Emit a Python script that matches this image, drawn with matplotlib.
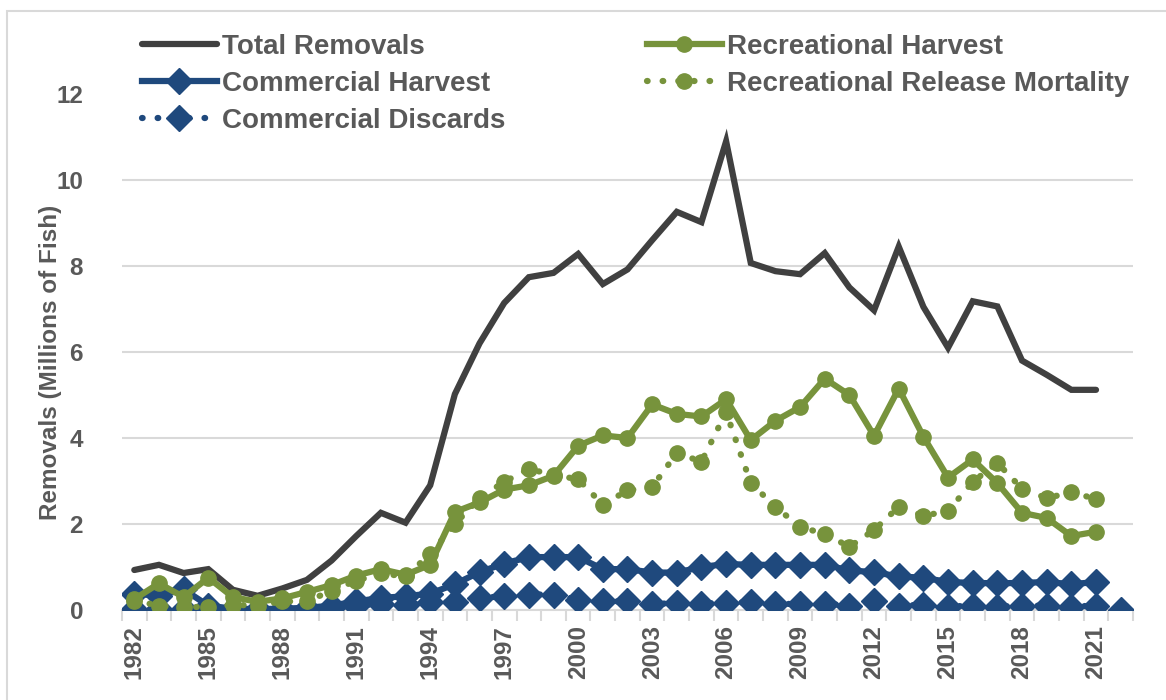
import matplotlib
matplotlib.use("Agg")
import matplotlib.pyplot as plt
import numpy as np
from matplotlib.patches import Rectangle

# years on the category axis (discards run one year longer)
years = list(range(1982, 2023))

# removals in millions of fish
total_removals = [0.93, 1.05, 0.86, 0.95, 0.47, 0.33, 0.5, 0.7, 1.15, 1.72,
                  2.26, 2.03, 2.9, 5.02, 6.2, 7.14, 7.74, 7.84, 8.28, 7.58,
                  7.92, 8.6, 9.26, 9.02, 10.9, 8.07, 7.88, 7.81, 8.3, 7.5,
                  6.97, 8.45, 7.05, 6.1, 7.18, 7.06, 5.8, 5.47, 5.12, 5.12]
rec_harvest = [0.25, 0.62, 0.3, 0.75, 0.3, 0.19, 0.27, 0.42, 0.58, 0.8,
               0.95, 0.82, 1.05, 2.28, 2.5, 2.8, 2.9, 3.12, 3.82, 4.06,
               4.0, 4.78, 4.56, 4.5, 4.9, 3.95, 4.4, 4.72, 5.38, 5.0,
               4.05, 5.15, 4.03, 3.08, 3.5, 2.95, 2.26, 2.14, 1.72, 1.82]
rec_release = [0.22, 0.1, 0.06, 0.08, 0.12, 0.1, 0.2, 0.2, 0.45, 0.68,
               0.85, 0.78, 1.3, 2.0, 2.6, 2.98, 3.28, 3.14, 3.04, 2.45,
               2.78, 2.86, 3.65, 3.45, 4.6, 2.95, 2.4, 1.93, 1.77, 1.47,
               1.86, 2.4, 2.19, 2.3, 2.98, 3.42, 2.82, 2.6, 2.74, 2.58]
comm_harvest = [0.38, 0.33, 0.48, 0.1, 0.03, 0.02, 0.03, 0.05, 0.1, 0.2,
                0.28, 0.32, 0.38, 0.6, 0.88, 1.08, 1.23, 1.23, 1.23, 0.95,
                0.95, 0.87, 0.87, 1.0, 1.07, 1.05, 1.05, 1.05, 1.05, 0.92,
                0.88, 0.78, 0.75, 0.65, 0.63, 0.62, 0.63, 0.65, 0.6, 0.65]
comm_discards = [0.02, 0.02, 0.02, 0.05, 0.0, 0.0, 0.0, 0.0, 0.05, 0.1,
                 0.15, 0.12, 0.18, 0.18, 0.28, 0.32, 0.36, 0.36, 0.24, 0.2,
                 0.2, 0.13, 0.17, 0.15, 0.17, 0.18, 0.13, 0.15, 0.15, 0.1,
                 0.2, 0.1, 0.12, 0.08, 0.1, 0.08, 0.1, 0.1, 0.08, 0.1, 0.0]

grey = "#404040"
green = "#77933C"
blue = "#1F497D"
text_col = "#595959"
grid_col = "#D9D9D9"

plt.rcParams["font.family"] = ["Liberation Sans", "DejaVu Sans"]
plt.rcParams["font.weight"] = "bold"

fig = plt.figure(figsize=(11.66, 7.0), dpi=100)
ax = fig.add_axes([0.1046, 0.1286, 0.8671, 0.7371])

# outer chart border
fig.patches.append(Rectangle((7 / 1166, -0.01), 1.02, 0.995, transform=fig.transFigure,
                             fill=False, edgecolor=grid_col, linewidth=1.5))

x = np.arange(len(years))
n = len(total_removals)
dot = (0, (0.1, 2.4))

ax.plot(x[:n], total_removals, color=grey, lw=4.5, solid_capstyle="round",
        solid_joinstyle="miter", label="Total Removals", zorder=3)
ax.plot(x[:n], comm_harvest, color=blue, lw=4.5, marker="D", ms=13,
        label="Commercial Harvest", zorder=4)
ax.plot(x, comm_discards, color=blue, lw=4.5, ls=dot, dash_capstyle="round",
        marker="D", ms=13, label="Commercial Discards", zorder=4)
ax.plot(x[:n], rec_harvest, color=green, lw=4.5, marker="o", ms=11,
        label="Recreational Harvest", zorder=5)
ax.plot(x[:n], rec_release, color=green, lw=4.5, ls=dot, dash_capstyle="round",
        marker="o", ms=11, label="Recreational Release Mortality", zorder=5)

ax.set_xlim(-0.5, len(years) - 0.5)
ax.set_ylim(0, 12)
ax.set_yticks(range(0, 13, 2))
ax.yaxis.grid(True, color=grid_col, lw=1.5)
ax.set_axisbelow(True)
# the legend sits over the top gridline in the original
ax.get_ygridlines()[-1].set_visible(False)

# category axis: ticks between categories, labels every three years
ax.set_xticks(np.arange(-0.5, len(years), 1), minor=True)
ax.set_xticks(x[::3])
ax.set_xticklabels([str(y) for y in years[::3]], rotation=90)
ax.tick_params(axis="x", which="minor", length=8, width=1.5, color=grid_col)
ax.tick_params(axis="x", which="major", length=0, pad=11)
ax.tick_params(axis="y", length=0, pad=28)
for lab in ax.get_xticklabels() + ax.get_yticklabels():
    lab.set_fontsize(17.5)
    lab.set_color(text_col)
    lab.set_fontweight("bold")

for side in ["left", "right", "top"]:
    ax.spines[side].set_visible(False)
ax.spines["bottom"].set_color(grid_col)
ax.spines["bottom"].set_linewidth(1.5)

ax.set_ylabel("Removals (Millions of Fish)", fontsize=17.5, color=text_col,
              fontweight="bold")
ax.yaxis.set_label_coords(-0.059, 0.479)

leg = ax.legend(ncol=2, loc="upper left", bbox_to_anchor=(0.014, 1.128),
                frameon=False, fontsize=20, handlelength=2.7, handletextpad=0.18,
                columnspacing=5.1, labelspacing=0.4, borderaxespad=0, borderpad=0.2)
for t in leg.get_texts():
    t.set_color(text_col)
    t.set_fontweight("bold")

fig.savefig("out.png", dpi=100)
